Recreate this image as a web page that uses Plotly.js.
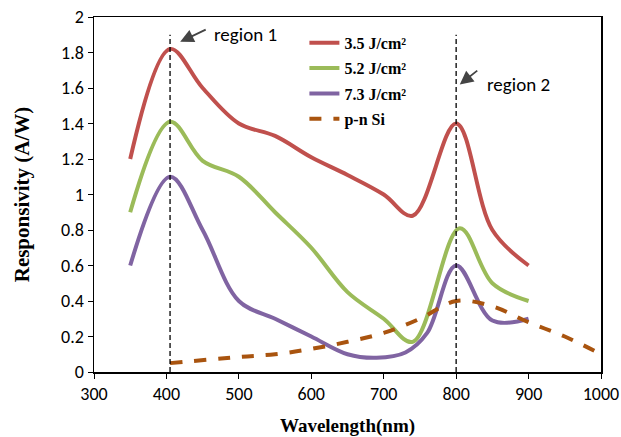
<!DOCTYPE html>
<html>
<head>
<meta charset="utf-8">
<script src="https://cdn.plot.ly/plotly-3.0.1.min.js"></script>
<style>html,body{margin:0;padding:0;background:#fff}#chart{width:621px;height:437px}</style>
</head>
<body>
<div id="chart"></div>
<script>
var seriesNames = ["3.5 J/cm²", "5.2 J/cm²", "7.3 J/cm²", "p-n Si"];
var x35 = [350, 405, 450, 500, 550, 600, 650, 700, 740, 800, 850, 900];
var y35 = [1.2, 1.82, 1.6, 1.4, 1.33, 1.21, 1.11, 1.0, 0.88, 1.4, 0.8, 0.6];
var x52 = [350, 405, 450, 500, 550, 600, 650, 700, 740, 805, 850, 900];
var y52 = [0.9, 1.41, 1.19, 1.1, 0.9, 0.7, 0.45, 0.3, 0.17, 0.81, 0.5, 0.4];
var x73 = [350, 405, 450, 500, 550, 600, 650, 690, 730, 760, 800, 850, 900];
var y73 = [0.6, 1.1, 0.8, 0.4, 0.3, 0.2, 0.1, 0.08, 0.11, 0.22, 0.6, 0.29, 0.3];
var xSi = [405, 500, 550, 600, 650, 700, 750, 800, 850, 900, 950, 1000];
var ySi = [0.05, 0.085, 0.1, 0.13, 0.17, 0.22, 0.3, 0.4, 0.37, 0.28, 0.2, 0.1];
var regionX = [405, 800];
var regionLabels = ["region 1", "region 2"];
var xTicks = [300, 400, 500, 600, 700, 800, 900, 1000];
var yTicks = [0, 0.2, 0.4, 0.6, 0.8, 1, 1.2, 1.4, 1.6, 1.8, 2];

var colors = ["#C0504D", "#9BBB59", "#8064A2", "#A9540F"];
var xs = [x35, x52, x73, xSi];
var ys = [y35, y52, y73, ySi];
var traces = xs.map(function (xv, i) {
  return {
    x: xv, y: ys[i], name: seriesNames[i], type: "scatter", mode: "lines",
    legendgroup: "g" + i,
    line: {color: colors[i], width: 4, shape: "spline", smoothing: 1, dash: i === 3 ? "dash" : "solid"}
  };
});

var shapes = regionX.map(function (xv) {
  return {type: "line", xref: "x", yref: "y", x0: xv, x1: xv, y0: 0, y1: 1.9,
          line: {color: "#000", width: 1.3, dash: "5px,3px"}};
});

var annFont = {family: "Liberation Sans Narrow, Carlito, Liberation Sans", size: 19, color: "#000"};
var annotations = [
  {x: 419, y: 1.86, xref: "x", yref: "y", text: "", showarrow: true,
   ax: 27, ay: -13, arrowhead: 2, arrowsize: 1.5, arrowwidth: 1.8, standoff: 0},
  {x: 463, y: 1.9, xref: "x", yref: "y", text: regionLabels[0], showarrow: false,
   xanchor: "left", yanchor: "middle", font: annFont},
  {x: 805, y: 1.62, xref: "x", yref: "y", text: "", showarrow: true,
   ax: 19, ay: -15, arrowhead: 2, arrowsize: 1.5, arrowwidth: 1.8, standoff: 0},
  {x: 840, y: 1.62, xref: "x", yref: "y", text: regionLabels[1], showarrow: false,
   xanchor: "left", yanchor: "middle", font: annFont}
];

var tickFont = {family: "Liberation Sans Narrow, Carlito, Liberation Sans", size: 18, color: "#000"};
var layout = {
  width: 621, height: 437,
  margin: {l: 94, r: 20, t: 17, b: 65},
  paper_bgcolor: "#fff", plot_bgcolor: "#fff",
  showlegend: true,
  legend: {x: 0.415, y: 0.975, xanchor: "left", yanchor: "top", bgcolor: "rgba(0,0,0,0)",
           font: {family: "Liberation Serif", size: 16, color: "#000", weight: "bold"},
           tracegroupgap: 1.5, traceorder: "grouped"},
  xaxis: {range: [300, 1000], tickvals: xTicks, ticktext: xTicks.map(String),
          showgrid: false, zeroline: false, showline: true, mirror: true, linecolor: "#000", linewidth: 1.5,
          ticks: "outside", ticklen: 5, tickcolor: "#000", tickfont: tickFont,
          title: {text: "Wavelength(nm)", standoff: 15, font: {family: "Liberation Serif", size: 19, color: "#000", weight: "bold"}}},
  yaxis: {range: [0, 2], tickvals: yTicks, ticktext: yTicks.map(String),
          showgrid: false, zeroline: false, showline: true, mirror: true, linecolor: "#000", linewidth: 1.5,
          ticks: "outside", ticklen: 5, tickcolor: "#000", tickfont: tickFont,
          title: {text: "Responsivity (A/W)", standoff: 26, font: {family: "Liberation Serif", size: 21, color: "#000", weight: "bold"}}},
  shapes: shapes,
  annotations: annotations
};
Plotly.newPlot("chart", traces, layout, {displayModeBar: false, staticPlot: true});
</script>
</body>
</html>
